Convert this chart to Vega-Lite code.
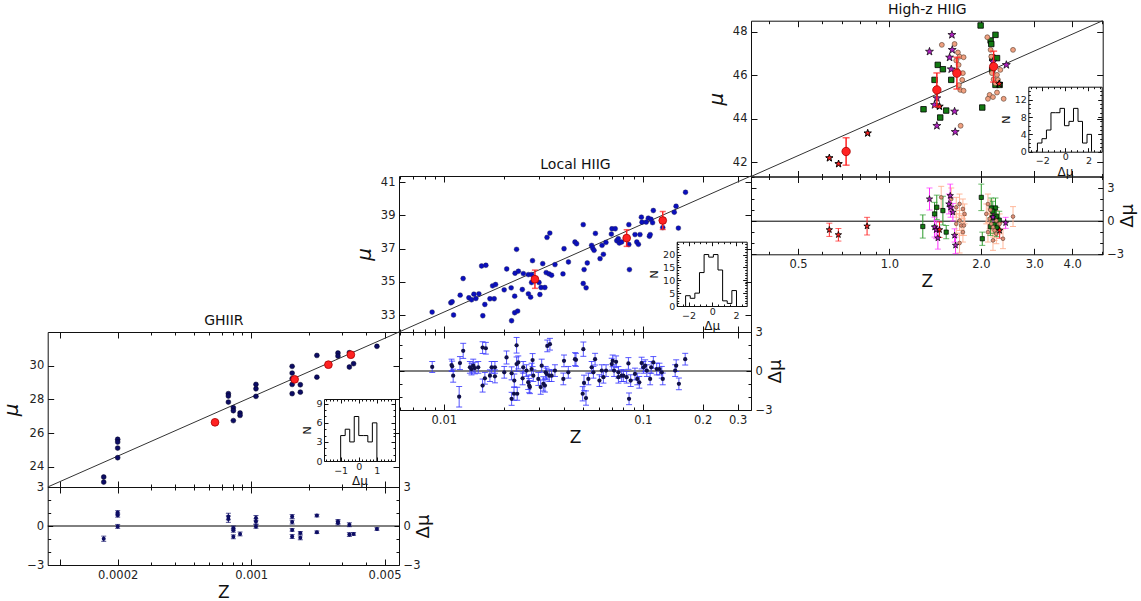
{
"$schema": "https://vega.github.io/schema/vega-lite/v6.json",
"width": 1141, "height": 601, "autosize": "none", "padding": 0, "background": "white",
"datasets": {
"g_main": [{"z":0.000169,"mu":23.39},{"z":0.000169,"mu":23.09},{"z":0.0002,"mu":25.63},{"z":0.0002,"mu":25.47},{"z":0.0002,"mu":25.11},{"z":0.0002,"mu":24.54},{"z":0.00076,"mu":28.34},{"z":0.00076,"mu":28.2},{"z":0.00076,"mu":27.84},{"z":0.000807,"mu":27.5},{"z":0.000807,"mu":27.33},{"z":0.000807,"mu":26.74},{"z":0.000875,"mu":27.19},{"z":0.000875,"mu":27.05},{"z":0.00106,"mu":28.89},{"z":0.00106,"mu":28.63},{"z":0.00106,"mu":28.18},{"z":0.00164,"mu":29.96},{"z":0.00164,"mu":29.56},{"z":0.00164,"mu":29.23},{"z":0.00164,"mu":28.89},{"z":0.00164,"mu":28.34},{"z":0.00181,"mu":28.87},{"z":0.00181,"mu":28.43},{"z":0.00221,"mu":30.61},{"z":0.00221,"mu":29.32},{"z":0.00285,"mu":30.75},{"z":0.00285,"mu":30.57},{"z":0.00327,"mu":30.77},{"z":0.00327,"mu":29.92},{"z":0.00344,"mu":30.12},{"z":0.00456,"mu":31.15}],
"g_red": [{"z":0.000647,"mu":26.64},{"z":0.00169,"mu":29.19},{"z":0.00254,"mu":30.06},{"z":0.00333,"mu":30.65}],
"g_res": [{"z":0.000169,"d":-0.98,"e":0.2},{"z":0.0002,"d":1.03,"e":0.15},{"z":0.0002,"d":0.83,"e":0.15},{"z":0.0002,"d":-0.03,"e":0.15},{"z":0.00076,"d":0.73,"e":0.25},{"z":0.00076,"d":0.53,"e":0.25},{"z":0.000807,"d":-0.15,"e":0.15},{"z":0.000807,"d":-0.33,"e":0.15},{"z":0.000807,"d":-0.83,"e":0.15},{"z":0.000875,"d":-0.61,"e":0.15},{"z":0.00106,"d":0.61,"e":0.2},{"z":0.00106,"d":0.35,"e":0.2},{"z":0.00106,"d":-0.03,"e":0.15},{"z":0.00164,"d":0.73,"e":0.15},{"z":0.00164,"d":0.3,"e":0.15},{"z":0.00164,"d":-0.3,"e":0.1},{"z":0.00164,"d":-0.81,"e":0.15},{"z":0.00181,"d":-0.53,"e":0.1},{"z":0.00181,"d":-0.91,"e":0.15},{"z":0.00221,"d":0.8,"e":0.1},{"z":0.00221,"d":-0.48,"e":0.1},{"z":0.00285,"d":0.35,"e":0.15},{"z":0.00285,"d":0.23,"e":0.15},{"z":0.00327,"d":0.1,"e":0.15},{"z":0.00327,"d":-0.66,"e":0.15},{"z":0.00344,"d":-0.61,"e":0.1},{"z":0.00456,"d":-0.23,"e":0.1}],
"g_hist": [{"x":-1,"n":0},{"x":-1,"n":4},{"x":-0.75,"n":5},{"x":-0.5,"n":3},{"x":-0.25,"n":7},{"x":0,"n":4},{"x":0.25,"n":4},{"x":0.5,"n":3},{"x":0.75,"n":6},{"x":1,"n":0}],
"g_line": [{"z":0.000086,"mu":22.8},{"z":0.00595,"mu":32.0}],
"g_zero": [{"z":0.000086,"d":0},{"z":0.00595,"d":0}],
"l_main": [{"z":0.00873,"mu":33.18},{"z":0.01084,"mu":33.74},{"z":0.01101,"mu":33.8},{"z":0.01119,"mu":33.0},{"z":0.01208,"mu":34.2},{"z":0.0125,"mu":35.2},{"z":0.01336,"mu":34.04},{"z":0.01378,"mu":33.92},{"z":0.01416,"mu":34.26},{"z":0.01449,"mu":34.0},{"z":0.015,"mu":34.28},{"z":0.01548,"mu":35.96},{"z":0.01627,"mu":36.0},{"z":0.0157,"mu":32.96},{"z":0.01607,"mu":33.64},{"z":0.01705,"mu":33.98},{"z":0.01791,"mu":33.98},{"z":0.01758,"mu":34.76},{"z":0.0182,"mu":34.84},{"z":0.0201,"mu":34.52},{"z":0.0207,"mu":35.78},{"z":0.0218,"mu":34.64},{"z":0.0219,"mu":32.66},{"z":0.0227,"mu":34.14},{"z":0.0227,"mu":33.14},{"z":0.0235,"mu":33.24},{"z":0.0232,"mu":36.96},{"z":0.0228,"mu":35.52},{"z":0.0237,"mu":35.64},{"z":0.0248,"mu":34.54},{"z":0.0251,"mu":35.5},{"z":0.0266,"mu":35.44},{"z":0.0276,"mu":35.44},{"z":0.0266,"mu":34.28},{"z":0.0273,"mu":34.08},{"z":0.0279,"mu":36.28},{"z":0.0276,"mu":34.96},{"z":0.0301,"mu":34.96},{"z":0.0308,"mu":34.66},{"z":0.0322,"mu":34.66},{"z":0.0304,"mu":34.24},{"z":0.0314,"mu":36.1},{"z":0.033,"mu":37.68},{"z":0.0341,"mu":37.94},{"z":0.0327,"mu":35.56},{"z":0.0338,"mu":35.48},{"z":0.0348,"mu":35.4},{"z":0.0362,"mu":36.04},{"z":0.0397,"mu":35.48},{"z":0.0402,"mu":37.0},{"z":0.0423,"mu":36.2},{"z":0.0456,"mu":37.4},{"z":0.0465,"mu":37.3},{"z":0.0502,"mu":38.45},{"z":0.0507,"mu":35.74},{"z":0.0502,"mu":34.9},{"z":0.0519,"mu":34.64},{"z":0.0526,"mu":36.14},{"z":0.0553,"mu":37.2},{"z":0.056,"mu":37.04},{"z":0.0569,"mu":36.9},{"z":0.0578,"mu":37.92},{"z":0.061,"mu":36.4},{"z":0.0624,"mu":37.2},{"z":0.0634,"mu":36.66},{"z":0.0653,"mu":37.38},{"z":0.07,"mu":38.2},{"z":0.0727,"mu":38.2},{"z":0.0695,"mu":37.88},{"z":0.074,"mu":37.48},{"z":0.0762,"mu":37.34},{"z":0.0851,"mu":38.45},{"z":0.0857,"mu":35.74},{"z":0.0851,"mu":37.25},{"z":0.0783,"mu":37.4},{"z":0.0753,"mu":37.6},{"z":0.0914,"mu":37.85},{"z":0.0968,"mu":37.85},{"z":0.0933,"mu":37.4},{"z":0.0951,"mu":37.26},{"z":0.0984,"mu":38.9},{"z":0.0991,"mu":38.6},{"z":0.104,"mu":38.6},{"z":0.1066,"mu":38.84},{"z":0.11,"mu":38.77},{"z":0.108,"mu":37.75},{"z":0.109,"mu":37.85},{"z":0.112,"mu":38.57},{"z":0.126,"mu":38.27},{"z":0.113,"mu":39.3},{"z":0.144,"mu":39.2},{"z":0.147,"mu":39.56},{"z":0.151,"mu":38.24},{"z":0.164,"mu":40.4}],
"l_red": [{"z":0.0287,"mu":35.16,"e":0.55},{"z":0.083,"mu":37.64,"e":0.5},{"z":0.126,"mu":38.7,"e":0.54}],
"l_res": [{"z":0.00874,"d":0.31,"e":0.42},{"z":0.01093,"d":0.46,"e":0.45},{"z":0.01114,"d":-0.36,"e":0.5},{"z":0.01101,"d":0.36,"e":0.4},{"z":0.01205,"d":0.61,"e":0.5},{"z":0.01194,"d":-1.98,"e":0.79},{"z":0.01251,"d":1.55,"e":0.58},{"z":0.01352,"d":0.28,"e":0.45},{"z":0.01377,"d":0.15,"e":0.45},{"z":0.01405,"d":0.41,"e":0.5},{"z":0.01432,"d":0.23,"e":0.45},{"z":0.01489,"d":0.28,"e":0.45},{"z":0.01566,"d":1.8,"e":0.45},{"z":0.01626,"d":1.75,"e":0.45},{"z":0.01566,"d":-1.12,"e":0.5},{"z":0.01608,"d":-0.56,"e":0.45},{"z":0.01705,"d":-0.36,"e":0.45},{"z":0.01738,"d":0.28,"e":0.45},{"z":0.01806,"d":0.28,"e":0.45},{"z":0.01806,"d":-0.41,"e":0.5},{"z":0.02012,"d":-0.1,"e":0.45},{"z":0.02066,"d":1.04,"e":0.5},{"z":0.02191,"d":-0.18,"e":0.5},{"z":0.02191,"d":-2.14,"e":0.5},{"z":0.0226,"d":-0.74,"e":0.5},{"z":0.02252,"d":-1.75,"e":0.5},{"z":0.02321,"d":0.53,"e":0.55},{"z":0.02321,"d":1.98,"e":0.6},{"z":0.02338,"d":-1.75,"e":0.5},{"z":0.02366,"d":0.66,"e":0.5},{"z":0.02488,"d":-0.56,"e":0.5},{"z":0.02506,"d":0.28,"e":0.45},{"z":0.02604,"d":0.03,"e":0.45},{"z":0.02655,"d":-0.87,"e":0.55},{"z":0.02686,"d":-1.12,"e":0.55},{"z":0.02708,"d":-1.24,"e":0.5},{"z":0.02761,"d":0.15,"e":0.45},{"z":0.02793,"d":0.84,"e":0.5},{"z":0.02816,"d":-0.36,"e":0.45},{"z":0.02985,"d":-0.61,"e":0.5},{"z":0.03103,"d":0.41,"e":0.5},{"z":0.03067,"d":-1.24,"e":0.55},{"z":0.03163,"d":-0.99,"e":0.55},{"z":0.03222,"d":-1.12,"e":0.5},{"z":0.0325,"d":-0.1,"e":0.45},{"z":0.03286,"d":-0.23,"e":0.45},{"z":0.03311,"d":1.93,"e":0.45},{"z":0.03414,"d":2.06,"e":0.45},{"z":0.03388,"d":-0.36,"e":0.45},{"z":0.03481,"d":-0.36,"e":0.45},{"z":0.03618,"d":0.03,"e":0.45},{"z":0.03987,"d":-0.61,"e":0.45},{"z":0.04018,"d":0.78,"e":0.45},{"z":0.04222,"d":-0.1,"e":0.45},{"z":0.04563,"d":0.91,"e":0.5},{"z":0.04616,"d":0.86,"e":0.5},{"z":0.05027,"d":1.68,"e":0.55},{"z":0.04988,"d":-1.75,"e":0.55},{"z":0.05066,"d":-0.92,"e":0.6},{"z":0.05183,"d":-2.08,"e":0.55},{"z":0.05326,"d":-0.61,"e":0.45},{"z":0.05534,"d":0.28,"e":0.45},{"z":0.05757,"d":0.91,"e":0.45},{"z":0.05647,"d":-0.1,"e":0.45},{"z":0.06054,"d":-0.74,"e":0.45},{"z":0.06222,"d":0.03,"e":0.45},{"z":0.06339,"d":-0.48,"e":0.45},{"z":0.06537,"d":0.03,"e":0.45},{"z":0.06978,"d":0.53,"e":0.45},{"z":0.0706,"d":0.78,"e":0.45},{"z":0.07173,"d":0.03,"e":0.45},{"z":0.07342,"d":0.71,"e":0.45},{"z":0.07543,"d":-0.1,"e":0.45},{"z":0.07543,"d":-0.48,"e":0.45},{"z":0.07832,"d":-0.36,"e":0.45},{"z":0.07988,"d":-0.36,"e":0.45},{"z":0.08296,"d":-0.48,"e":0.45},{"z":0.08468,"d":0.58,"e":0.45},{"z":0.08532,"d":-2.14,"e":0.45},{"z":0.08693,"d":-0.74,"e":0.45},{"z":0.09136,"d":-0.23,"e":0.45},{"z":0.09388,"d":-0.61,"e":0.45},{"z":0.09606,"d":-0.87,"e":0.45},{"z":0.09867,"d":0.61,"e":0.45},{"z":0.1008,"d":0.28,"e":0.45},{"z":0.1028,"d":0.41,"e":0.45},{"z":0.1048,"d":0.03,"e":0.45},{"z":0.1089,"d":-0.61,"e":0.45},{"z":0.1102,"d":0.28,"e":0.45},{"z":0.113,"d":0.66,"e":0.45},{"z":0.1175,"d":0.15,"e":0.45},{"z":0.1213,"d":0.15,"e":0.45},{"z":0.1246,"d":-0.1,"e":0.45},{"z":0.126,"d":-0.61,"e":0.45},{"z":0.1455,"d":0.03,"e":0.45},{"z":0.1472,"d":0.41,"e":0.45},{"z":0.1519,"d":-0.99,"e":0.45},{"z":0.1634,"d":0.91,"e":0.45}],
"l_hist": [{"x":-2.25,"n":0},{"x":-2.25,"n":4},{"x":-1.86,"n":3},{"x":-1.47,"n":5},{"x":-1.08,"n":13},{"x":-0.69,"n":20},{"x":-0.3,"n":19},{"x":0.09,"n":20},{"x":0.48,"n":14},{"x":0.87,"n":2},{"x":1.26,"n":1},{"x":1.65,"n":6},{"x":2.04,"n":0}],
"l_line": [{"z":0.00595,"mu":31.98},{"z":0.35,"mu":41.38}],
"l_zero": [{"z":0.00595,"d":0},{"z":0.35,"d":0}],
"h_g": [{"z":1.997,"mu":48.28},{"z":2.235,"mu":47.85},{"z":2.154,"mu":47.59},{"z":2.165,"mu":47.43},{"z":2.182,"mu":46.81},{"z":2.261,"mu":46.78},{"z":1.443,"mu":46.47},{"z":1.5,"mu":46.27},{"z":1.408,"mu":45.78},{"z":1.598,"mu":45.78},{"z":1.295,"mu":44.43},{"z":1.538,"mu":44.37},{"z":1.47,"mu":44.05},{"z":2.235,"mu":45.55},{"z":2.307,"mu":45.55},{"z":2.022,"mu":44.51},{"z":2.18,"mu":46.24}],
"h_s": [{"z":1.488,"mu":47.39},{"z":1.639,"mu":47.43},{"z":1.681,"mu":47.04},{"z":1.702,"mu":46.85},{"z":1.755,"mu":46.82},{"z":1.66,"mu":46.67},{"z":1.69,"mu":46.47},{"z":1.672,"mu":46.21},{"z":1.737,"mu":45.78},{"z":1.694,"mu":45.54},{"z":1.711,"mu":45.32},{"z":1.755,"mu":45.28},{"z":1.716,"mu":43.67},{"z":2.101,"mu":47.74},{"z":2.154,"mu":47.16},{"z":2.553,"mu":47.16},{"z":2.176,"mu":46.09},{"z":2.261,"mu":46.01},{"z":2.204,"mu":45.81},{"z":2.235,"mu":45.63},{"z":2.138,"mu":45.09},{"z":2.261,"mu":45.2},{"z":2.111,"mu":44.91},{"z":2.193,"mu":44.99},{"z":2.378,"mu":44.91},{"z":2.278,"mu":45.78},{"z":2.165,"mu":46.85},{"z":2.319,"mu":46.24},{"z":1.745,"mu":46.09}],
"h_p": [{"z":1.606,"mu":47.85},{"z":1.355,"mu":47.08},{"z":1.61,"mu":47.16},{"z":1.578,"mu":46.81},{"z":1.598,"mu":46.27},{"z":1.639,"mu":44.33},{"z":1.433,"mu":43.67},{"z":1.647,"mu":43.39},{"z":1.433,"mu":44.94},{"z":1.408,"mu":44.63},{"z":2.427,"mu":46.47},{"z":2.193,"mu":46.62}],
"h_rs": [{"z":0.634,"mu":42.19},{"z":0.68,"mu":41.92},{"z":0.848,"mu":43.33},{"z":1.462,"mu":44.56},{"z":2.3,"mu":45.6}],
"h_red": [{"z":0.72,"mu":42.49,"e":0.63},{"z":1.433,"mu":45.32,"e":0.78},{"z":1.668,"mu":46.09,"e":0.73},{"z":2.204,"mu":46.39,"e":0.71}],
"hr_r": [{"z":0.634,"d":-0.78,"e":0.6},{"z":0.679,"d":-1.23,"e":0.57},{"z":0.844,"d":-0.45,"e":0.8},{"z":1.462,"d":-0.78,"e":0.7},{"z":2.307,"d":-0.84,"e":0.7}],
"hr_g": [{"z":1.288,"d":-0.48,"e":1.05},{"z":1.408,"d":0.66,"e":1.05},{"z":1.432,"d":1.26,"e":1.1},{"z":1.5,"d":0.96,"e":1.3},{"z":1.538,"d":-0.99,"e":0.6},{"z":2.007,"d":2.16,"e":1.2},{"z":2.022,"d":-1.59,"e":0.6},{"z":2.165,"d":1.2,"e":0.9},{"z":2.235,"d":1.2,"e":0.9},{"z":2.18,"d":0.3,"e":0.8},{"z":2.21,"d":-0.3,"e":0.8},{"z":2.26,"d":-0.6,"e":0.8},{"z":2.3,"d":0.1,"e":0.8},{"z":2.15,"d":-0.5,"e":0.8},{"z":2.19,"d":0.9,"e":0.9},{"z":2.25,"d":0.45,"e":0.8}],
"hr_p": [{"z":1.355,"d":2.01,"e":1.0},{"z":1.408,"d":-0.54,"e":0.9},{"z":1.426,"d":-0.78,"e":0.8},{"z":1.444,"d":-1.53,"e":1.0},{"z":1.586,"d":2.31,"e":1.05},{"z":1.57,"d":1.56,"e":0.9},{"z":1.59,"d":1.26,"e":0.9},{"z":1.618,"d":0.81,"e":0.8},{"z":1.639,"d":-1.29,"e":0.6},{"z":1.651,"d":-2.19,"e":0.75},{"z":2.414,"d":-0.15,"e":0.5},{"z":2.193,"d":0.36,"e":0.7}],
"hr_s": [{"z":1.481,"d":2.16,"e":1.0},{"z":1.598,"d":2.01,"e":1.0},{"z":1.66,"d":1.26,"e":0.9},{"z":1.702,"d":1.56,"e":0.9},{"z":1.746,"d":1.11,"e":0.9},{"z":1.768,"d":0.66,"e":0.9},{"z":1.702,"d":0.06,"e":0.9},{"z":1.66,"d":-0.24,"e":0.9},{"z":1.724,"d":-0.39,"e":0.9},{"z":1.759,"d":-0.39,"e":0.9},{"z":1.746,"d":-0.99,"e":0.9},{"z":1.702,"d":-1.98,"e":0.9},{"z":2.111,"d":1.56,"e":0.9},{"z":2.085,"d":0.66,"e":0.9},{"z":2.138,"d":0.21,"e":0.9},{"z":2.165,"d":-0.24,"e":0.9},{"z":2.193,"d":-0.54,"e":0.9},{"z":2.221,"d":-0.84,"e":0.9},{"z":2.249,"d":-1.14,"e":0.9},{"z":2.366,"d":-1.59,"e":0.9},{"z":2.553,"d":0.42,"e":0.9},{"z":2.111,"d":-0.99,"e":0.9},{"z":2.193,"d":-1.74,"e":0.9},{"z":2.307,"d":-0.24,"e":0.9},{"z":2.149,"d":1.02,"e":0.9},{"z":2.249,"d":0.06,"e":0.9}],
"h_hist": [{"x":-2.41,"n":0},{"x":-2.41,"n":2},{"x":-2.02,"n":3},{"x":-1.63,"n":5},{"x":-1.24,"n":9},{"x":-0.85,"n":9},{"x":-0.46,"n":10},{"x":-0.07,"n":6},{"x":0.32,"n":7},{"x":0.71,"n":10},{"x":1.1,"n":7},{"x":1.49,"n":2},{"x":1.88,"n":4},{"x":2.27,"n":0}],
"h_line": [{"z":0.35,"mu":41.34},{"z":5.04,"mu":48.5}],
"h_zero": [{"z":0.35,"d":0},{"z":5.04,"d":0}]
},
"layer": [
{"encoding": {
  "x": {"field":"z","type":"quantitative","scale":{"type":"log","domain":[0.000086,0.00595],"range":[47.7,399],"nice":false},
        "axis":{"orient":"top","offset":-332,"values":[0.0001,0.0002,0.0003,0.0004,0.0005,0.0006,0.0007,0.0008,0.0009,0.001,0.002,0.003,0.004,0.005],"labels":false,"tickSize":{"condition":{"test":"indexof([0.0001,0.0002,0.001,0.005],datum.value)>=0","value":-6},"value":-3},"title":"GHIIR","titleFontSize":14,"titlePadding":4}},
  "y": {"field":"mu","type":"quantitative","scale":{"domain":[22.8,32.0],"range":[487,332],"zero":false,"nice":false},
        "axis":{"orient":"left","offset":-47.7,"values":[24,26,28,30],"tickSize":-6,"labelPadding":10,"title":"μ","titleFontSize":20,"titleFontStyle":"italic","titlePadding":8}}},
 "layer": [
  {"data":{"name":"g_line"},"mark":{"type":"line","color":"#333333","strokeWidth":1},"encoding":{"order":{"value":null}}},
  {"data":{"name":"g_main"},"mark":{"type":"point","filled":true,"fill":"#0c0c64","stroke":"#000022","strokeWidth":0.5,"size":24,"opacity":1}},
  {"data":{"name":"g_red"},"mark":{"type":"point","filled":true,"fill":"#ff2222","stroke":"#aa0000","strokeWidth":0.8,"size":60,"opacity":1}}
 ]},
{"data":{"values":[]},"mark":"point","encoding":{
  "x": {"field":"z","type":"quantitative","scale":{"type":"log","domain":[0.000086,0.00595],"range":[47.7,399],"nice":false},
        "axis":{"orient":"bottom","offset":-114,"values":[0.0001,0.0002,0.0003,0.0004,0.0005,0.0006,0.0007,0.0008,0.0009,0.001,0.002,0.003,0.004,0.005],"labels":false,"tickSize":{"condition":{"test":"indexof([0.0001,0.0002,0.001,0.005],datum.value)>=0","value":-6},"value":-3},"title":null}},
  "y": {"field":"mu","type":"quantitative","scale":{"domain":[22.8,32.0],"range":[487,332],"zero":false,"nice":false},
        "axis":{"orient":"right","offset":-742,"values":[24,26,28,30],"labels":false,"tickSize":-6,"title":null}}}},
{"encoding": {
  "x": {"field":"z","type":"quantitative","scale":{"type":"log","domain":[0.000086,0.00595],"range":[47.7,399],"nice":false},
        "axis":{"orient":"bottom","offset":-36,"values":[0.0001,0.0002,0.0003,0.0004,0.0005,0.0006,0.0007,0.0008,0.0009,0.001,0.002,0.003,0.004,0.005],"labelExpr":"datum.value==0.0002?'0.0002':datum.value==0.001?'0.001':datum.value==0.005?'0.005':''","tickSize":{"condition":{"test":"indexof([0.0001,0.0002,0.001,0.005],datum.value)>=0","value":-6},"value":-3},"labelPadding":10,"title":"Z","titleFontSize":17,"titlePadding":1}},
  "y": {"field":"d","type":"quantitative","scale":{"domain":[-3,3],"range":[565,487],"zero":false,"nice":false},
        "axis":{"orient":"right","offset":-742,"values":[-3,-2,-1,0,1,2,3],"labelExpr":"indexof([-3,0,3],datum.value)>=0?datum.label:''","tickSize":{"condition":{"test":"indexof([-3,0,3],datum.value)>=0","value":-5},"value":-3},"labelPadding":9,"title":"Δμ","titleFontSize":18,"titleAngle":270,"titleBaseline":"top","titlePadding":-5}}},
 "layer": [
  {"data":{"name":"g_zero"},"mark":{"type":"line","color":"black","strokeWidth":1},"encoding":{"order":{"value":null}}},
  {"data":{"name":"g_res"},"mark":{"type":"errorbar","ticks":{"size":5},"color":"#0c0c64"},"encoding":{"yError":{"field":"e"}}},
  {"data":{"name":"g_res"},"mark":{"type":"point","filled":true,"fill":"#0c0c64","size":16,"opacity":1}}
 ]},
{"data":{"values":[]},"mark":"point","encoding":{
  "x": {"field":"z","type":"quantitative","scale":{"type":"log","domain":[0.000086,0.00595],"range":[47.7,399],"nice":false},
        "axis":{"orient":"top","offset":-487,"values":[0.0001,0.0002,0.0003,0.0004,0.0005,0.0006,0.0007,0.0008,0.0009,0.001,0.002,0.003,0.004,0.005],"labels":false,"tickSize":{"condition":{"test":"indexof([0.0001,0.0002,0.001,0.005],datum.value)>=0","value":-6},"value":-3},"title":null}},
  "y": {"field":"d","type":"quantitative","scale":{"domain":[-3,3],"range":[565,487],"zero":false,"nice":false},
        "axis":{"orient":"left","offset":-47.7,"values":[-3,-2,-1,0,1,2,3],"labelExpr":"indexof([-3,0,3],datum.value)>=0?datum.label:''","tickSize":{"condition":{"test":"indexof([-3,0,3],datum.value)>=0","value":-5},"value":-3},"labelPadding":9,"title":null}}}},
{"data":{"name":"g_hist"},"mark":{"type":"line","interpolate":"step-after","color":"black","strokeWidth":1},"encoding":{
  "order":{"value":null},
  "x": {"field":"x","type":"quantitative","scale":{"domain":[-1.92,2.0],"range":[324,395],"zero":false,"nice":false},
        "axis":{"orient":"bottom","offset":-140,"values":[-1.8,-1.6,-1.4,-1.2,-1,-0.8,-0.6,-0.4,-0.2,0,0.2,0.4,0.6,0.8,1,1.2,1.4,1.6,1.8],"labelExpr":"indexof([-1,0,1],datum.value)>=0?format(datum.value,'d'):''","tickSize":{"condition":{"test":"indexof([-1,0,1],datum.value)>=0","value":-4},"value":-2},"labelPadding":{"condition":{"test":"datum.value==0","value":4},"value":8},"labelFontSize":9.5,"title":"Δμ","titleFontSize":12,"titlePadding":-1}},
  "y": {"field":"n","type":"quantitative","scale":{"domain":[0,9.75],"range":[461,399],"zero":false,"nice":false},
        "axis":{"orient":"left","offset":-324,"values":[0,1,2,3,4,5,6,7,8,9],"labelExpr":"indexof([0,3,6,9],datum.value)>=0?datum.label:''","tickSize":{"condition":{"test":"indexof([0,3,6,9],datum.value)>=0","value":-4},"value":-2},"labelPadding":6,"labelFontSize":9.5,"title":"N","titleFontSize":11,"titlePadding":3}}}},
{"data":{"values":[]},"mark":"point","encoding":{
  "x": {"field":"x","type":"quantitative","scale":{"domain":[-1.92,2.0],"range":[324,395],"zero":false,"nice":false},
        "axis":{"orient":"top","offset":-399,"values":[-1.8,-1.6,-1.4,-1.2,-1,-0.8,-0.6,-0.4,-0.2,0,0.2,0.4,0.6,0.8,1,1.2,1.4,1.6,1.8],"labels":false,"tickSize":{"condition":{"test":"indexof([-1,0,1],datum.value)>=0","value":-4},"value":-2},"title":null}},
  "y": {"field":"n","type":"quantitative","scale":{"domain":[0,9.75],"range":[461,399],"zero":false,"nice":false},
        "axis":{"orient":"right","offset":-746,"values":[0,1,2,3,4,5,6,7,8,9],"labels":false,"tickSize":{"condition":{"test":"indexof([0,3,6,9],datum.value)>=0","value":-4},"value":-2},"title":null}}}},

{"encoding": {
  "x": {"field":"z","type":"quantitative","scale":{"type":"log","domain":[0.00595,0.35],"range":[399,751],"nice":false},
        "axis":{"orient":"top","offset":-176,"values":[0.006,0.007,0.008,0.009,0.01,0.02,0.03,0.04,0.05,0.06,0.07,0.08,0.09,0.1,0.2,0.3],"labels":false,"tickSize":{"condition":{"test":"indexof([0.01,0.1,0.2,0.3],datum.value)>=0","value":-6},"value":-3},"title":"Local HIIG","titleFontSize":14,"titlePadding":4}},
  "y": {"field":"mu","type":"quantitative","scale":{"domain":[31.98,41.38],"range":[332,176],"zero":false,"nice":false},
        "axis":{"orient":"left","offset":-399,"values":[33,35,37,39,41],"tickSize":-6,"labelPadding":10,"title":"μ","titleFontSize":20,"titleFontStyle":"italic","titlePadding":6}}},
 "layer": [
  {"data":{"name":"l_line"},"mark":{"type":"line","color":"#333333","strokeWidth":1},"encoding":{"order":{"value":null}}},
  {"data":{"name":"l_main"},"mark":{"type":"point","filled":true,"fill":"#0a0fbe","stroke":"#202050","strokeWidth":0.4,"size":24,"opacity":1}},
  {"data":{"name":"l_red"},"mark":{"type":"errorbar","ticks":{"size":6},"color":"#ff2020","thickness":1.5},"encoding":{"yError":{"field":"e"}}},
  {"data":{"name":"l_red"},"mark":{"type":"point","filled":true,"fill":"#ff2222","stroke":"#aa0000","strokeWidth":0.8,"size":60,"opacity":1}}
 ]},
{"data":{"values":[]},"mark":"point","encoding":{
  "x": {"field":"z","type":"quantitative","scale":{"type":"log","domain":[0.00595,0.35],"range":[399,751],"nice":false},
        "axis":{"orient":"bottom","offset":-269,"values":[0.006,0.007,0.008,0.009,0.01,0.02,0.03,0.04,0.05,0.06,0.07,0.08,0.09,0.1,0.2,0.3],"labels":false,"tickSize":{"condition":{"test":"indexof([0.01,0.1,0.2,0.3],datum.value)>=0","value":-6},"value":-3},"title":null}},
  "y": {"field":"mu","type":"quantitative","scale":{"domain":[31.98,41.38],"range":[332,176],"zero":false,"nice":false},
        "axis":{"orient":"right","offset":-390,"values":[33,35,37,39,41],"labels":false,"tickSize":-6,"title":null}}}},
{"encoding": {
  "x": {"field":"z","type":"quantitative","scale":{"type":"log","domain":[0.00595,0.35],"range":[399,751],"nice":false},
        "axis":{"orient":"bottom","offset":-191,"values":[0.006,0.007,0.008,0.009,0.01,0.02,0.03,0.04,0.05,0.06,0.07,0.08,0.09,0.1,0.2,0.3],"labelExpr":"datum.value==0.01?'0.01':datum.value==0.1?'0.1':datum.value==0.2?'0.2':datum.value==0.3?'0.3':''","tickSize":{"condition":{"test":"indexof([0.01,0.1,0.2,0.3],datum.value)>=0","value":-6},"value":-3},"labelPadding":10,"title":"Z","titleFontSize":17,"titlePadding":1}},
  "y": {"field":"d","type":"quantitative","scale":{"domain":[-3,3],"range":[410,332],"zero":false,"nice":false},
        "axis":{"orient":"right","offset":-390,"values":[-3,-2,-1,0,1,2,3],"labelExpr":"indexof([-3,0,3],datum.value)>=0?datum.label:''","tickSize":{"condition":{"test":"indexof([-3,0,3],datum.value)>=0","value":-5},"value":-3},"labelPadding":9,"title":"Δμ","titleFontSize":18,"titleAngle":270,"titleBaseline":"top","titlePadding":-5}}},
 "layer": [
  {"data":{"name":"l_zero"},"mark":{"type":"line","color":"black","strokeWidth":1},"encoding":{"order":{"value":null}}},
  {"data":{"name":"l_res"},"mark":{"type":"errorbar","ticks":{"size":6},"color":"#3a3aff","opacity":0.85},"encoding":{"yError":{"field":"e"}}},
  {"data":{"name":"l_res"},"mark":{"type":"point","filled":true,"fill":"#10104a","size":18,"opacity":1}}
 ]},
{"data":{"values":[]},"mark":"point","encoding":{
  "x": {"field":"z","type":"quantitative","scale":{"type":"log","domain":[0.00595,0.35],"range":[399,751],"nice":false},
        "axis":{"orient":"top","offset":-332,"values":[0.006,0.007,0.008,0.009,0.01,0.02,0.03,0.04,0.05,0.06,0.07,0.08,0.09,0.1,0.2,0.3],"labels":false,"tickSize":{"condition":{"test":"indexof([0.01,0.1,0.2,0.3],datum.value)>=0","value":-6},"value":-3},"title":null}},
  "y": {"field":"d","type":"quantitative","scale":{"domain":[-3,3],"range":[410,332],"zero":false,"nice":false},
        "axis":{"orient":"left","offset":-399,"values":[-3,-2,-1,0,1,2,3],"labels":false,"tickSize":{"condition":{"test":"indexof([-3,0,3],datum.value)>=0","value":-5},"value":-3},"title":null}}}},
{"data":{"name":"l_hist"},"mark":{"type":"line","interpolate":"step-after","color":"black","strokeWidth":1},"encoding":{
  "order":{"value":null},
  "x": {"field":"x","type":"quantitative","scale":{"domain":[-3.0,2.9],"range":[676.7,746.7],"zero":false,"nice":false},
        "axis":{"orient":"bottom","offset":-295,"values":[-3,-2.5,-2,-1.5,-1,-0.5,0,0.5,1,1.5,2,2.5],"labelExpr":"indexof([-2,0,2],datum.value)>=0?format(datum.value,'d'):''","tickSize":{"condition":{"test":"indexof([-2,0,2],datum.value)>=0","value":-4},"value":-2},"labelPadding":{"condition":{"test":"datum.value==0","value":4},"value":8},"labelFontSize":9.5,"title":"Δμ","titleFontSize":12,"titlePadding":-1}},
  "y": {"field":"n","type":"quantitative","scale":{"domain":[0,25],"range":[306,241.7],"zero":false,"nice":false},
        "axis":{"orient":"left","offset":-676.7,"values":[0,1,2,3,4,5,6,7,8,9,10,11,12,13,14,15,16,17,18,19,20,21,22,23,24],"labelExpr":"indexof([0,5,10,15,20],datum.value)>=0?datum.label:''","tickSize":{"condition":{"test":"indexof([0,5,10,15,20],datum.value)>=0","value":-4},"value":-2},"labelPadding":6,"labelFontSize":9.5,"title":"N","titleFontSize":11,"titlePadding":3}}}},
{"data":{"values":[]},"mark":"point","encoding":{
  "x": {"field":"x","type":"quantitative","scale":{"domain":[-3.0,2.9],"range":[676.7,746.7],"zero":false,"nice":false},
        "axis":{"orient":"top","offset":-241.7,"values":[-3,-2.5,-2,-1.5,-1,-0.5,0,0.5,1,1.5,2,2.5],"labels":false,"tickSize":{"condition":{"test":"indexof([-2,0,2],datum.value)>=0","value":-4},"value":-2},"title":null}},
  "y": {"field":"n","type":"quantitative","scale":{"domain":[0,25],"range":[306,241.7],"zero":false,"nice":false},
        "axis":{"orient":"right","offset":-394.3,"values":[0,1,2,3,4,5,6,7,8,9,10,11,12,13,14,15,16,17,18,19,20,21,22,23,24],"labels":false,"tickSize":{"condition":{"test":"indexof([0,5,10,15,20],datum.value)>=0","value":-4},"value":-2},"title":null}}}},

{"encoding": {
  "x": {"field":"z","type":"quantitative","scale":{"type":"log","domain":[0.35,5.04],"range":[751,1102.7],"nice":false},
        "axis":{"orient":"top","offset":-20.7,"values":[0.4,0.5,0.6,0.7,0.8,0.9,1,2,3,4,5],"labels":false,"tickSize":{"condition":{"test":"indexof([0.5,1,2,3,4],datum.value)>=0","value":-6},"value":-3},"title":"High-z HIIG","titleFontSize":14,"titlePadding":4}},
  "y": {"field":"mu","type":"quantitative","scale":{"domain":[41.34,48.5],"range":[176.5,20.7],"zero":false,"nice":false},
        "axis":{"orient":"left","offset":-751,"values":[42,44,46,48],"tickSize":-6,"labelPadding":10,"title":"μ","titleFontSize":20,"titleFontStyle":"italic","titlePadding":6}}},
 "layer": [
  {"data":{"name":"h_line"},"mark":{"type":"line","color":"#333333","strokeWidth":1},"encoding":{"order":{"value":null}}},
  {"data":{"name":"h_g"},"mark":{"type":"point","shape":"square","filled":true,"fill":"#127a12","stroke":"black","strokeWidth":0.8,"size":30,"opacity":1}},
  {"data":{"name":"h_s"},"mark":{"type":"point","shape":"circle","filled":true,"fill":"#f0a080","stroke":"#6a4a3a","strokeWidth":0.7,"size":24,"opacity":1}},
  {"data":{"name":"h_p"},"mark":{"type":"point","shape":"M0,-1L0.235,-0.324L0.951,-0.309L0.38,0.124L0.588,0.809L0,0.4L-0.588,0.809L-0.38,0.124L-0.951,-0.309L-0.235,-0.324Z","filled":true,"fill":"#b020c0","stroke":"black","strokeWidth":0.7,"size":70,"opacity":1}},
  {"data":{"name":"h_rs"},"mark":{"type":"point","shape":"M0,-1L0.235,-0.324L0.951,-0.309L0.38,0.124L0.588,0.809L0,0.4L-0.588,0.809L-0.38,0.124L-0.951,-0.309L-0.235,-0.324Z","filled":true,"fill":"#ff2020","stroke":"black","strokeWidth":1,"size":60,"opacity":1}},
  {"data":{"name":"h_red"},"mark":{"type":"errorbar","ticks":{"size":7},"color":"#ff2020","thickness":1.5},"encoding":{"yError":{"field":"e"}}},
  {"data":{"name":"h_red"},"mark":{"type":"point","filled":true,"fill":"#ff2222","stroke":"#aa0000","strokeWidth":0.8,"size":70,"opacity":1}}
 ]},
{"data":{"values":[]},"mark":"point","encoding":{
  "x": {"field":"z","type":"quantitative","scale":{"type":"log","domain":[0.35,5.04],"range":[751,1102.7],"nice":false},
        "axis":{"orient":"bottom","offset":-424.5,"values":[0.4,0.5,0.6,0.7,0.8,0.9,1,2,3,4,5],"labels":false,"tickSize":{"condition":{"test":"indexof([0.5,1,2,3,4],datum.value)>=0","value":-6},"value":-3},"title":null}},
  "y": {"field":"mu","type":"quantitative","scale":{"domain":[41.34,48.5],"range":[176.5,20.7],"zero":false,"nice":false},
        "axis":{"orient":"right","offset":-38.3,"values":[42,44,46,48],"labels":false,"tickSize":-6,"title":null}}}},
{"encoding": {
  "x": {"field":"z","type":"quantitative","scale":{"type":"log","domain":[0.35,5.04],"range":[751,1102.7],"nice":false},
        "axis":{"orient":"bottom","offset":-346.7,"values":[0.4,0.5,0.6,0.7,0.8,0.9,1,2,3,4,5],"labelExpr":"indexof([0.5,1,2,3,4],datum.value)>=0?format(datum.value,'.1f'):''","tickSize":{"condition":{"test":"indexof([0.5,1,2,3,4],datum.value)>=0","value":-6},"value":-3},"labelPadding":10,"title":"Z","titleFontSize":17,"titlePadding":1}},
  "y": {"field":"d","type":"quantitative","scale":{"domain":[-3,4.05],"range":[254.3,176.5],"zero":false,"nice":false},
        "axis":{"orient":"right","offset":-38.3,"values":[-3,-2,-1,0,1,2,3,4],"labelExpr":"indexof([-3,0,3],datum.value)>=0?datum.label:''","tickSize":{"condition":{"test":"indexof([-3,0,3],datum.value)>=0","value":-5},"value":-3},"labelPadding":9,"title":"Δμ","titleFontSize":18,"titleAngle":270,"titleBaseline":"top","titlePadding":-5}}},
 "layer": [
  {"data":{"name":"h_zero"},"mark":{"type":"line","color":"black","strokeWidth":1},"encoding":{"order":{"value":null}}},
  {"data":{"name":"hr_s"},"mark":{"type":"errorbar","ticks":{"size":6},"color":"#ffb090","opacity":0.9},"encoding":{"yError":{"field":"e"}}},
  {"data":{"name":"hr_g"},"mark":{"type":"errorbar","ticks":{"size":6},"color":"#2a9a2a"},"encoding":{"yError":{"field":"e"}}},
  {"data":{"name":"hr_p"},"mark":{"type":"errorbar","ticks":{"size":6},"color":"#ff30ff"},"encoding":{"yError":{"field":"e"}}},
  {"data":{"name":"hr_r"},"mark":{"type":"errorbar","ticks":{"size":6},"color":"#ff2020"},"encoding":{"yError":{"field":"e"}}},
  {"data":{"name":"hr_g"},"mark":{"type":"point","shape":"square","filled":true,"fill":"#127a12","stroke":"black","strokeWidth":0.7,"size":18,"opacity":1}},
  {"data":{"name":"hr_s"},"mark":{"type":"point","shape":"circle","filled":true,"fill":"#e09078","stroke":"#5a3a2a","strokeWidth":0.6,"size":14,"opacity":1}},
  {"data":{"name":"hr_p"},"mark":{"type":"point","shape":"M0,-1L0.235,-0.324L0.951,-0.309L0.38,0.124L0.588,0.809L0,0.4L-0.588,0.809L-0.38,0.124L-0.951,-0.309L-0.235,-0.324Z","filled":true,"fill":"#b020c0","stroke":"black","strokeWidth":0.7,"size":45,"opacity":1}},
  {"data":{"name":"hr_r"},"mark":{"type":"point","shape":"M0,-1L0.235,-0.324L0.951,-0.309L0.38,0.124L0.588,0.809L0,0.4L-0.588,0.809L-0.38,0.124L-0.951,-0.309L-0.235,-0.324Z","filled":true,"fill":"#ff2020","stroke":"black","strokeWidth":0.8,"size":45,"opacity":1}}
 ]},
{"data":{"values":[]},"mark":"point","encoding":{
  "x": {"field":"z","type":"quantitative","scale":{"type":"log","domain":[0.35,5.04],"range":[751,1102.7],"nice":false},
        "axis":{"orient":"top","offset":-176.5,"values":[0.4,0.5,0.6,0.7,0.8,0.9,1,2,3,4,5],"labels":false,"tickSize":{"condition":{"test":"indexof([0.5,1,2,3,4],datum.value)>=0","value":-6},"value":-3},"title":null}},
  "y": {"field":"d","type":"quantitative","scale":{"domain":[-3,4.05],"range":[254.3,176.5],"zero":false,"nice":false},
        "axis":{"orient":"left","offset":-751,"values":[-3,-2,-1,0,1,2,3,4],"labels":false,"tickSize":{"condition":{"test":"indexof([-3,0,3],datum.value)>=0","value":-5},"value":-3},"title":null}}}},
{"data":{"name":"h_hist"},"mark":{"type":"line","interpolate":"step-after","color":"black","strokeWidth":1},"encoding":{
  "order":{"value":null},
  "x": {"field":"x","type":"quantitative","scale":{"domain":[-3.2,3.15],"range":[1028.3,1101.7],"zero":false,"nice":false},
        "axis":{"orient":"bottom","offset":-449.3,"values":[-3,-2.5,-2,-1.5,-1,-0.5,0,0.5,1,1.5,2,2.5,3],"labelExpr":"indexof([-2,0,2],datum.value)>=0?format(datum.value,'d'):''","tickSize":{"condition":{"test":"indexof([-2,0,2],datum.value)>=0","value":-4},"value":-2},"labelPadding":{"condition":{"test":"datum.value==0","value":4},"value":8},"labelFontSize":9.5,"title":"Δμ","titleFontSize":12,"titlePadding":-1}},
  "y": {"field":"n","type":"quantitative","scale":{"domain":[0,15],"range":[151.7,86.7],"zero":false,"nice":false},
        "axis":{"orient":"left","offset":-1028.3,"values":[0,1,2,3,4,5,6,7,8,9,10,11,12,13,14],"labelExpr":"indexof([0,4,8,12],datum.value)>=0?datum.label:''","tickSize":{"condition":{"test":"indexof([0,4,8,12],datum.value)>=0","value":-4},"value":-2},"labelPadding":6,"labelFontSize":9.5,"title":"N","titleFontSize":11,"titlePadding":3}}}},
{"data":{"values":[]},"mark":"point","encoding":{
  "x": {"field":"x","type":"quantitative","scale":{"domain":[-3.2,3.15],"range":[1028.3,1101.7],"zero":false,"nice":false},
        "axis":{"orient":"top","offset":-86.7,"values":[-3,-2.5,-2,-1.5,-1,-0.5,0,0.5,1,1.5,2,2.5,3],"labels":false,"tickSize":{"condition":{"test":"indexof([-2,0,2],datum.value)>=0","value":-4},"value":-2},"title":null}},
  "y": {"field":"n","type":"quantitative","scale":{"domain":[0,15],"range":[151.7,86.7],"zero":false,"nice":false},
        "axis":{"orient":"right","offset":-39.3,"values":[0,1,2,3,4,5,6,7,8,9,10,11,12,13,14],"labels":false,"tickSize":{"condition":{"test":"indexof([0,4,8,12],datum.value)>=0","value":-4},"value":-2},"title":null}}}}
],
"resolve": {"scale": {"x":"independent","y":"independent"}, "axis": {"x":"independent","y":"independent"}},
"config": {"view":{"stroke":null},
  "axis":{"domainColor":"#111111","tickColor":"#111111","labelColor":"#222222","titleColor":"#111111","labelFont":"DejaVu Sans","titleFont":"DejaVu Sans","titleFontWeight":"normal","grid":false,"labelFlush":false,"labelOverlap":false,"labelBound":false,"labelFontSize":11.5,"tickWidth":1,"domainWidth":1}}
}
